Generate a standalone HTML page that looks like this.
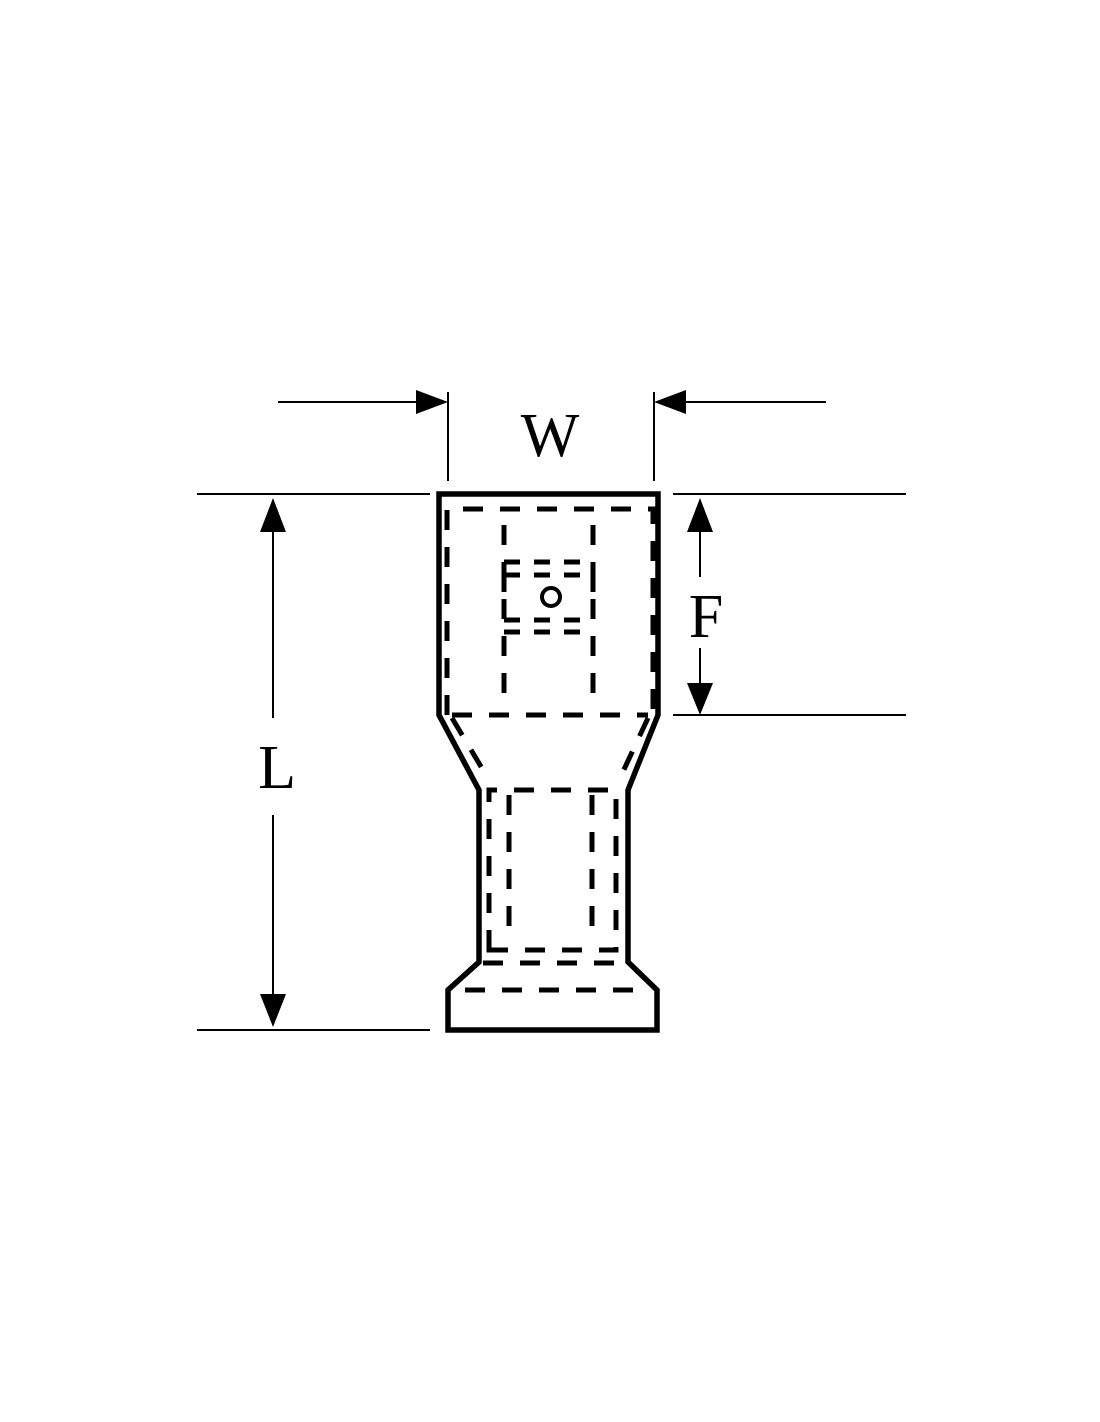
<!DOCTYPE html>
<html><head><meta charset="utf-8"><style>html,body{margin:0;padding:0;background:#fff}svg{display:block}</style></head>
<body>
<svg width="1100" height="1422" viewBox="0 0 1100 1422" xmlns="http://www.w3.org/2000/svg">
<rect width="1100" height="1422" fill="#fff"/>
<g stroke="#000" stroke-width="2" fill="none">
<line x1="278" y1="402" x2="420" y2="402"/>
<line x1="682" y1="402" x2="826" y2="402"/>
<line x1="448" y1="392" x2="448" y2="481"/>
<line x1="654" y1="392" x2="654" y2="481"/>
<line x1="197" y1="494" x2="430" y2="494"/>
<line x1="673" y1="494" x2="906" y2="494"/>
<line x1="673" y1="715" x2="906" y2="715"/>
<line x1="197" y1="1030" x2="430" y2="1030"/>
<line x1="273" y1="530" x2="273" y2="718"/>
<line x1="273" y1="815" x2="273" y2="996"/>
<line x1="700" y1="528" x2="700" y2="577"/>
<line x1="700" y1="648" x2="700" y2="686"/>
</g>
<g fill="#000">
<polygon points="448,402 416,390 416,414"/>
<polygon points="654,402 686,390 686,414"/>
<polygon points="273,498 260,532 286,532"/>
<polygon points="273,1027 260,994 286,994"/>
<polygon points="700,498 687,532 713,532"/>
<polygon points="700,715 687,683 713,683"/>
</g>
<g font-family="Liberation Serif, serif" font-size="62" text-anchor="middle" fill="#000">
<text x="550" y="456">W</text>
<text x="277" y="788">L</text>
<text x="706" y="637">F</text>
</g>
<path d="M439,494 L658,494 L658,715 L628,790 L628,962 L657,990 L657,1030 L448,1030 L448,990 L479,962 L479,790 L439,715 Z" fill="none" stroke="#000" stroke-width="5.5" stroke-linejoin="miter"/>
<g stroke="#000" stroke-width="5" fill="none" stroke-dasharray="20,17">
<path d="M447,715 L447,509 L653,509 L653,715"/>
<line x1="452" y1="715" x2="648" y2="715"/>
<line x1="452" y1="718" x2="483" y2="770"/>
<line x1="648" y1="718" x2="620" y2="778"/>
<path d="M489,950 L489,790 L616,790 L616,950 Z"/>
<line x1="509" y1="795" x2="509" y2="930"/>
<line x1="592" y1="795" x2="592" y2="930"/>
<line x1="483" y1="963" x2="618" y2="963"/>
<line x1="465" y1="990" x2="640" y2="990"/>
<line x1="504" y1="525" x2="504" y2="698"/>
<line x1="593" y1="525" x2="593" y2="698"/>
</g>
<g stroke="#000" stroke-width="5" fill="none" stroke-dasharray="16,14">
<path d="M504,562 L593,562"/>
<path d="M504,575 L593,575"/>
<path d="M504,620 L593,620"/>
<path d="M504,632 L593,632"/>
<path d="M504,580 L504,618 M593,580 L593,618" stroke-dasharray="12,10"/>
</g>
<circle cx="551" cy="597" r="9" fill="none" stroke="#000" stroke-width="4"/>
</svg>
</body></html>
